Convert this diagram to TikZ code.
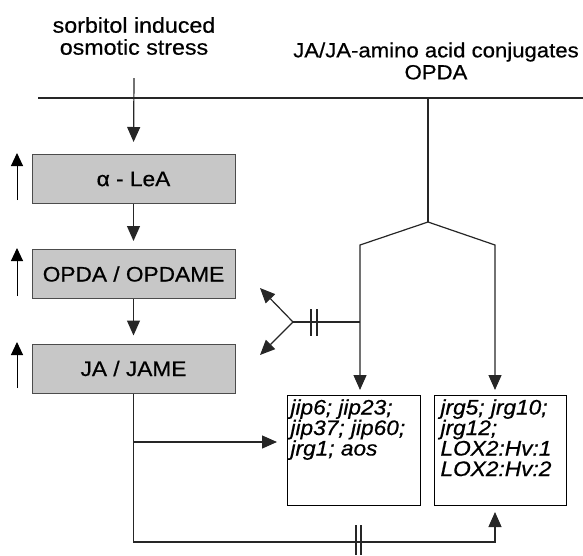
\documentclass[tikz,border=0pt]{standalone}
\usepackage{fontspec}
\setmainfont{Liberation Sans}[FakeStretch=1.08,FakeBold=0.6]
\usetikzlibrary{arrows.meta}
\begin{document}
\begin{tikzpicture}[x=1pt,y=-1pt,
  line/.style={line width=1.2pt, draw=black!85},
  arr/.style={line, -{Triangle[length=15pt,width=13pt]}},
  thinarr/.style={line width=1pt, draw=black, -{Triangle[length=13pt,width=12pt]}},
  lbox/.style={draw=black!70, line width=1pt, fill=black!22, minimum width=203pt, minimum height=49pt, inner sep=0pt, font=\fontsize{21}{23}\selectfont},
  gbox/.style={draw=black, line width=1pt, fill=white, anchor=north west, inner sep=0pt, minimum height=110pt, font=\fontsize{21}{20.5}\selectfont\itshape},
  lab/.style={align=center, inner sep=0pt, font=\fontsize{21.5}{22}\selectfont}]
\useasboundingbox (0,0) rectangle (583,555);

% top labels
\node[lab] (sorb) at (134,36) {sorbitol induced\\osmotic stress};
\node[lab, font=\fontsize{20.5}{22}\selectfont] (ja) at (436,61) {JA/JA-amino acid conjugates\\OPDA};

% top horizontal line
\coordinate (hl) at (38,98);
\coordinate (hr) at (583,98);
\draw[line] (hl) -- (hr);

% left boxes
\node[lbox] (a) at (133.5,179) {α - LeA};
\node[lbox] (b) at (133.5,274) {OPDA / OPDAME};
\node[lbox] (c) at (133.5,368.5) {JA / JAME};

% sorbitol arrow
\coordinate (s0) at (134,78);
\draw[arr, shorten >=12pt] (s0) -- (a.north);
\draw[arr, shorten >=8pt] (a.south) -- (b.north);
\draw[arr, shorten >=8pt] (b.south) -- (c.north);

% up arrows
\coordinate (u1a) at (17,200); \coordinate (u1b) at (17,153);
\coordinate (u2a) at (17,296); \coordinate (u2b) at (17,248);
\coordinate (u3a) at (17,388); \coordinate (u3b) at (17,342);
\draw[thinarr] (u1a) -- (u1b);
\draw[thinarr] (u2a) -- (u2b);
\draw[thinarr] (u3a) -- (u3b);

% gene boxes
\node[gbox, minimum width=133pt] (g1) at (287,395)
  {\parbox[c][110pt][t]{133pt}{\raggedright\hspace*{3pt}\rule{0pt}{19pt}jip6; jip23;\\\hspace*{3pt}jip37; jip60;\\\hspace*{3pt}jrg1; aos}};
\node[gbox, minimum width=132pt] (g2) at (434,395)
  {\parbox[c][110pt][t]{132pt}{\raggedright\hspace*{6pt}\rule{0pt}{19pt}jrg5; jrg10;\\\hspace*{6pt}jrg12;\\\hspace*{6pt}LOX2:Hv:1\\\hspace*{6pt}LOX2:Hv:2}};

% right branching
\coordinate (top) at (428,98);
\coordinate (split) at (428,222);
\coordinate (bl) at (360,245);
\coordinate (br) at (495,245);
\coordinate (g1in) at (360,395);
\coordinate (g2in) at (495,395);
\draw[line] (top) -- (split);
\draw[arr, shorten >=5pt] (split) -- (bl) -- (g1in);
\draw[arr, shorten >=5pt] (split) -- (br) -- (g2in);

% left stub with fork
\coordinate (st) at (360,322);
\coordinate (fk) at (293,322);
\coordinate (fu) at (260,288);
\coordinate (fd) at (260,355);
\draw[line] (st) -- (fk);
\draw[arr] (fk) -- (fu);
\draw[arr] (fk) -- (fd);
\coordinate (t1a) at (311,309); \coordinate (t1b) at (311,336);
\coordinate (t2a) at (317,309); \coordinate (t2b) at (317,336);
\draw[line] (t1a) -- (t1b);
\draw[line] (t2a) -- (t2b);

% bottom connectors
\coordinate (cb) at (133.5,542);
\coordinate (cm) at (133.5,442);
\coordinate (g1w) at (287,442);
\coordinate (g2b) at (495,542);
\coordinate (g2s) at (495,505);
\draw[arr, shorten >=7pt] (c.south) -- (cb) -- (g2b) -- (g2s);
\draw[arr, shorten >=10pt] (cm) -- (g1w);
\coordinate (b1a) at (356,525); \coordinate (b1b) at (356,555);
\coordinate (b2a) at (361,525); \coordinate (b2b) at (361,555);
\draw[line] (b1a) -- (b1b);
\draw[line] (b2a) -- (b2b);
\end{tikzpicture}
\end{document}
